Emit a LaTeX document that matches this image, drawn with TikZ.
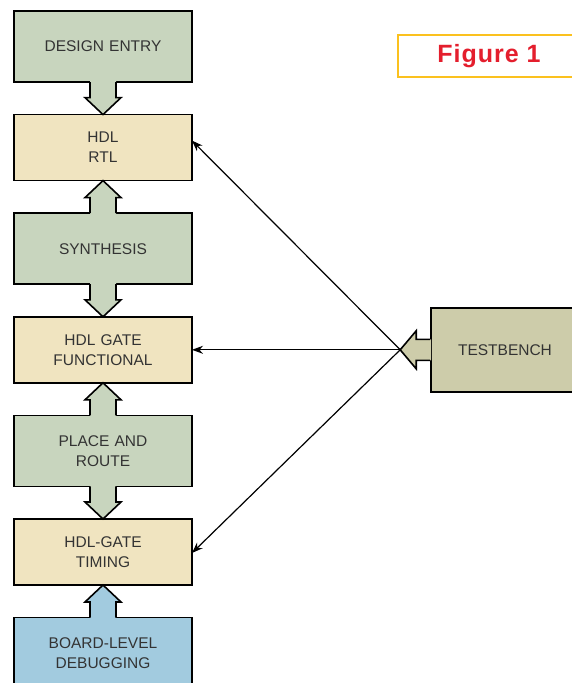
\documentclass[tikz,border=0pt]{standalone}
\usepackage{fontspec}
\setmainfont{Liberation Sans}
\usetikzlibrary{arrows.meta,positioning,calc}
\tikzset{
  font={\fontsize{15.5pt}{20pt}\selectfont}}

\definecolor{greenbox}{HTML}{C8D5BE}
\definecolor{tanbox}{HTML}{F0E4C0}
\definecolor{bluebox}{HTML}{A2CBDF}
\definecolor{tbbox}{HTML}{CDCCAA}
\definecolor{figborder}{HTML}{FBC11E}
\definecolor{figred}{HTML}{E41E2D}
\definecolor{boxtext}{HTML}{333333}

% fat arrow: from, to, fill colour, shaft half width, head half width, head length
\newcommand{\fatarrow}[6]{%
  \coordinate (fa-s) at ($(#1)!-1pt!(#2)$);
  \coordinate (fa-b) at (#1);
  \coordinate (fa-h) at ($(#2)!#6!(#1)$);
  \fill[#3] ($(fa-s)!#4!90:(#2)$) -- ($(fa-h)!#4!90:(#2)$) -- ($(fa-h)!#5!90:(#2)$)
    -- (#2) -- ($(fa-h)!#5!-90:(#2)$) -- ($(fa-h)!#4!-90:(#2)$) -- ($(fa-s)!#4!-90:(#2)$) -- cycle;
  \draw[line width=1.6pt, line join=miter] ($(fa-b)!#4!90:(#2)$) -- ($(fa-h)!#4!90:(#2)$)
    -- ($(fa-h)!#5!90:(#2)$) -- (#2) -- ($(fa-h)!#5!-90:(#2)$) -- ($(fa-h)!#4!-90:(#2)$)
    -- ($(fa-b)!#4!-90:(#2)$);
}

\begin{document}
\begin{tikzpicture}[x=1pt, y=-1pt,
    block_green/.style ={rectangle, draw=black, line width=1.6pt, fill=greenbox,
      text=boxtext, minimum width=178pt, minimum height=71pt, text width=160pt,
      align=center, inner sep=0pt},
    block_tan/.style ={block_green, fill=tanbox, minimum height=66pt},
    block_blue/.style ={block_green, fill=bluebox},
    block_bench/.style ={block_green, fill=tbbox, minimum width=148pt,
      minimum height=84pt, text width=130pt},
    block_figure/.style ={rectangle, draw=figborder, line width=2.5pt, fill=white,
      minimum width=182pt, minimum height=42pt, inner sep=0pt},
    paths2/.style={black, draw, line width=1.2pt,
      arrows={-Stealth[length=11pt, width=8pt, black, fill=black]}}]
    \clip (0,0) rectangle (572,683);
    % flow of design steps, top to bottom
    \matrix [row sep=31pt, inner sep=0pt, outer sep=0pt, anchor=north west] at (13.2,10.2) {
      % row 1
      \node[block_green](design){DESIGN ENTRY};\\
      % row 2
      \node[block_tan](rtl){HDL\\RTL};\\
      % row 3
      \node[block_green](synth){SYNTHESIS};\\
      % row 4
      \node[block_tan](gate){HDL GATE\\FUNCTIONAL};\\
      % row 5
      \node[block_green](place){PLACE AND\\ROUTE};\\
      % row 6
      \node[block_tan](timing){HDL-GATE\\TIMING};\\
      % row 7
      \node[block_blue](board){BOARD-LEVEL\\DEBUGGING};\\
    };% end matrix
    % testbench and title
    \node[block_bench] (bench) at ($(gate.east)+(313,0)$) {TESTBENCH};
    \node[block_figure] (fig) at (489,56)
      {\fontsize{25pt}{28pt}\selectfont\bfseries\addfontfeature{LetterSpace=4}\color{figred}Figure 1};
    \coordinate (bench_tip) at ($(bench.west)+(-30,0)$);
    \coordinate (rtl_in) at ($(rtl.east)+(0,-7)$);
    \coordinate (timing_in) at ($(timing.east)+(0,1)$);
    % testbench paths
    \begin{scope}[every path/.style=paths2]
      \path ($(bench_tip)!-16pt!(rtl_in)$) -- (rtl_in);
      \path (bench_tip) -- (gate.east);
      \path ($(bench_tip)!-16pt!(timing_in)$) -- (timing_in);
    \end{scope}
    % fat arrows between steps
    \fatarrow{design.south}{rtl.north}{greenbox}{13pt}{18pt}{17pt}
    \fatarrow{synth.north}{rtl.south}{greenbox}{13pt}{18pt}{17pt}
    \fatarrow{synth.south}{gate.north}{greenbox}{13pt}{18pt}{17pt}
    \fatarrow{place.north}{gate.south}{greenbox}{13pt}{18pt}{17pt}
    \fatarrow{place.south}{timing.north}{greenbox}{13pt}{18pt}{17pt}
    \fatarrow{board.north}{timing.south}{bluebox}{13pt}{18pt}{17pt}
    \fatarrow{bench.west}{bench_tip}{tbbox}{10.5pt}{19pt}{16pt}
  \end{tikzpicture}
\end{document}
